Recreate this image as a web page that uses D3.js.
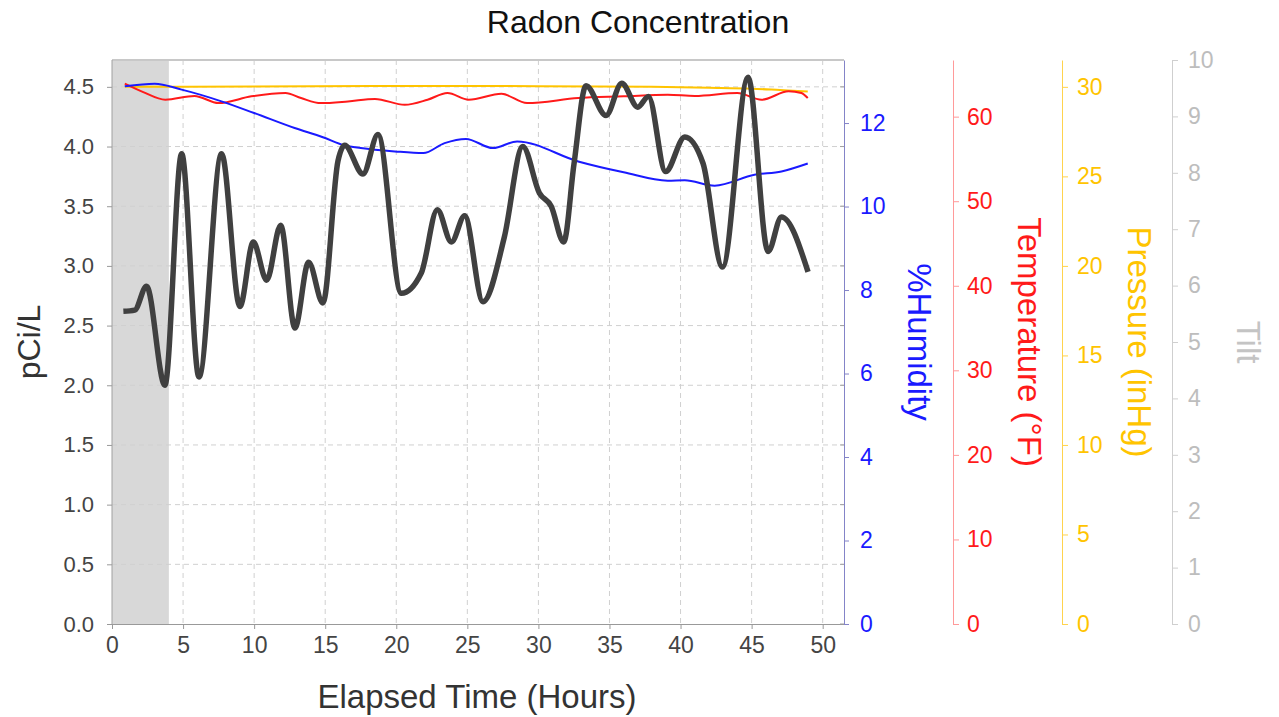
<!DOCTYPE html>
<html>
<head>
<meta charset="utf-8">
<script src="https://cdn.jsdelivr.net/npm/d3@7/dist/d3.min.js"></script>
<style>
  body { margin: 0; background: #fff; }
  text { font-family: "Liberation Sans", Arial, sans-serif; }
</style>
</head>
<body>
<svg id="chart" width="1279" height="717"></svg>
<script>
// values
const radonHours = [0.8, 1.6, 2.43, 3.72, 4.9, 6.12, 7.71, 9.0, 9.94, 10.88, 11.87, 12.87, 13.83, 14.84, 15.9, 16.37,
  17.66, 18.71, 20.36, 21.76, 22.89, 23.88, 24.81, 26.1, 27.6, 28.9, 30.07, 30.9, 31.78, 32.5, 33.35, 34.76, 35.86,
  36.99, 37.74, 38.95, 40.3, 41.58, 42.95, 44.75, 46.16, 47.1, 48.97];
const radon = [2.62, 2.63, 2.83, 2.0, 3.94, 2.07, 3.94, 2.66, 3.20, 2.88, 3.34, 2.48, 3.03, 2.69, 3.88, 4.01,
  3.77, 4.10, 2.77, 2.94, 3.47, 3.20, 3.42, 2.70, 3.24, 4.0, 3.61, 3.50, 3.20, 3.85, 4.51, 4.26, 4.53,
  4.33, 4.42, 3.79, 4.08, 3.86, 2.99, 4.58, 3.12, 3.41, 2.95];

const humHours = [0.9, 3.0, 4.9, 7.7, 10, 12.85, 14.84, 16.4, 17.5, 19.9, 21.9, 23.4, 24.9, 26.8, 28.5, 32.8, 36, 39.1,
  40.3, 42.4, 45.2, 47.1, 48.95];
const humidity = [12.88, 12.94, 12.8, 12.52, 12.24, 11.88, 11.66, 11.46, 11.4, 11.32, 11.28, 11.52, 11.62, 11.4, 11.56,
  11.08, 10.82, 10.62, 10.63, 10.5, 10.76, 10.84, 11.03];

const tempHours = [0.9, 2.2, 3.75, 5.8, 7.5, 9.8, 12.2, 13.3, 14.7, 16.6, 18.5, 20.6, 22.2, 23.6, 25.1, 27.4, 29.2,
  32.8, 36.0, 39.1, 41.0, 44.0, 45.7, 47.6, 48.5, 48.95];
const temperature = [63.9, 62.9, 62.0, 62.45, 61.6, 62.4, 62.8, 62.2, 61.6, 61.8, 62.1, 61.4, 62.0, 62.8, 62.0, 62.7, 61.6,
  62.2, 62.4, 62.6, 62.45, 62.8, 62.0, 63.0, 62.8, 62.2];

const pressHours = [0.9, 10, 20, 30, 38, 42, 45, 47, 48.95];
const pressure = [30.0, 30.02, 30.05, 30.04, 30.0, 29.95, 29.9, 29.82, 29.74];

const shadeHours = [0, 4];

const xTicks = [0, 5, 10, 15, 20, 25, 30, 35, 40, 45, 50];
const radonTicks = [0, 0.5, 1, 1.5, 2, 2.5, 3, 3.5, 4, 4.5];
const humTicks = [0, 2, 4, 6, 8, 10, 12];
const tempTicks = [0, 10, 20, 30, 40, 50, 60];
const pressTicks = [0, 5, 10, 15, 20, 25, 30];
const tiltTicks = [0, 1, 2, 3, 4, 5, 6, 7, 8, 9, 10];

const svg = d3.select("#chart");
const plotLeft = 112, plotRight = 844, plotTop = 60, plotBottom = 624;

const x = d3.scaleLinear().domain([0, 51.5]).range([plotLeft, plotRight]);
const y = d3.scaleLinear().domain([0, 4.725]).range([plotBottom, plotTop]);
const yHum = d3.scaleLinear().domain([0, 13.51]).range([plotBottom, plotTop]);
const yTemp = d3.scaleLinear().domain([0, 66.7]).range([plotBottom, plotTop]);
const yPress = d3.scaleLinear().domain([0, 31.5]).range([plotBottom, plotTop]);
const yTilt = d3.scaleLinear().domain([0, 10]).range([plotBottom, plotTop]);

svg.append("rect").attr("width", 1279).attr("height", 717).attr("fill", "#fff");

// shaded start window
svg.append("rect")
  .attr("x", x(shadeHours[0])).attr("y", plotTop)
  .attr("width", x(shadeHours[1]) - x(shadeHours[0])).attr("height", plotBottom - plotTop)
  .attr("fill", "#d8d8d8");

// gridlines
const grid = svg.append("g").attr("stroke", "#d0d0d0").attr("stroke-dasharray", "5,4");
grid.selectAll("line.h").data(radonTicks.slice(1)).enter().append("line")
  .attr("x1", plotLeft).attr("x2", plotRight)
  .attr("y1", d => y(d)).attr("y2", d => y(d));
grid.selectAll("line.v").data(xTicks.slice(1)).enter().append("line")
  .attr("y1", plotTop).attr("y2", plotBottom)
  .attr("x1", d => x(d)).attr("x2", d => x(d));

// frame
svg.append("line").attr("x1", plotLeft).attr("x2", plotRight).attr("y1", plotTop).attr("y2", plotTop)
  .attr("stroke", "#c8c8c8").attr("stroke-width", 2);
svg.append("line").attr("x1", plotLeft).attr("x2", plotLeft).attr("y1", plotTop).attr("y2", plotBottom)
  .attr("stroke", "#a0a0a0");
// left-axis ticks mirrored inside the right edge
svg.append("g").selectAll("line").data(radonTicks).enter().append("line")
  .attr("x1", plotRight - 4).attr("x2", plotRight)
  .attr("y1", d => y(d)).attr("y2", d => y(d))
  .attr("stroke", "#a0a0a0");

// series
function drawSeries(hours, values, scale, color, width) {
  const pts = hours.map((h, i) => [h, values[i]]);
  svg.append("path")
    .datum(pts)
    .attr("fill", "none")
    .attr("stroke", color)
    .attr("stroke-width", width)
    .attr("stroke-linejoin", "round")
    .attr("d", d3.line().x(d => x(d[0])).y(d => scale(d[1])).curve(d3.curveMonotoneX));
}
drawSeries(pressHours, pressure, yPress, "#ffc400", 2);
drawSeries(tempHours, temperature, yTemp, "#ff1a1a", 2);
drawSeries(humHours, humidity, yHum, "#1a1aff", 2);
drawSeries(radonHours, radon, y, "#404040", 5.5);

// axes
function styleAxis(g, lineColor, textColor, size) {
  g.select(".domain").attr("stroke", lineColor);
  g.selectAll(".tick line").attr("stroke", lineColor);
  g.selectAll(".tick text").attr("fill", textColor).style("font-size", size + "px")
    .style("font-family", '"Liberation Sans", Arial, sans-serif');
}

svg.append("g").attr("transform", `translate(0,${plotBottom})`)
  .call(d3.axisBottom(x).tickValues(xTicks).tickSize(5).tickSizeOuter(0).tickPadding(8))
  .call(g => styleAxis(g, "#999", "#444", 23));

svg.append("g").attr("transform", `translate(${plotLeft},0)`)
  .call(d3.axisLeft(y).tickValues(radonTicks).tickFormat(d3.format(".1f")).tickSize(5).tickSizeOuter(0).tickPadding(13))
  .call(g => styleAxis(g, "#999", "#444", 22))
  .call(g => g.select(".domain").remove());

svg.append("g").attr("transform", `translate(${plotRight},0)`)
  .call(d3.axisRight(yHum).tickValues(humTicks).tickSize(5).tickSizeOuter(0).tickPadding(11))
  .call(g => styleAxis(g, "#8484c8", "#1a1aff", 23));

svg.append("g").attr("transform", "translate(953,0)")
  .call(d3.axisRight(yTemp).tickValues(tempTicks).tickSize(6).tickSizeOuter(0).tickPadding(8))
  .call(g => styleAxis(g, "#ff9a9a", "#ff1a1a", 23));

svg.append("g").attr("transform", "translate(1062,0)")
  .call(d3.axisRight(yPress).tickValues(pressTicks).tickSize(6).tickSizeOuter(0).tickPadding(9))
  .call(g => styleAxis(g, "#ffd34d", "#ffc400", 23));

svg.append("g").attr("transform", "translate(1172,0)")
  .call(d3.axisRight(yTilt).tickValues(tiltTicks).tickSize(6).tickSizeOuter(0).tickPadding(10))
  .call(g => styleAxis(g, "#cfcfcf", "#bdbdbd", 23));

// titles
svg.append("text").attr("x", 638).attr("y", 22).attr("dy", "0.35em")
  .attr("text-anchor", "middle").style("font-size", "32px").attr("fill", "#111")
  .text("Radon Concentration");

svg.append("text").attr("x", 477).attr("y", 696).attr("dy", "0.35em")
  .attr("text-anchor", "middle").style("font-size", "33px").attr("fill", "#333")
  .text("Elapsed Time (Hours)");

svg.append("text").attr("transform", "translate(29,342) rotate(-90)").attr("dy", "0.35em")
  .attr("text-anchor", "middle").style("font-size", "32px").attr("fill", "#333")
  .text("pCi/L");

const sideLabels = [
  { text: "%Humidity", x: 920, color: "#1a1aff" },
  { text: "Temperature (°F)", x: 1030, color: "#ff1a1a" },
  { text: "Pressure (inHg)", x: 1140, color: "#ffc400" },
  { text: "Tilt", x: 1249, color: "#c4c4c4" }
];
svg.selectAll("text.side").data(sideLabels).enter().append("text")
  .attr("class", "side")
  .attr("transform", d => `translate(${d.x},342) rotate(90)`)
  .attr("dy", "0.35em")
  .attr("text-anchor", "middle")
  .style("font-size", "33px")
  .attr("fill", d => d.color)
  .text(d => d.text);
</script>
</body>
</html>
